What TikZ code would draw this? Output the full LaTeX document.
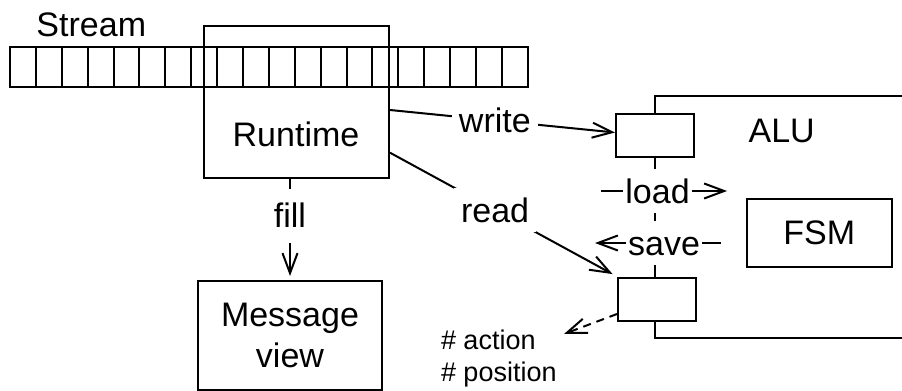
\documentclass[tikz,border=0pt]{standalone}
\usepackage{fontspec}
\setmainfont{Liberation Sans}
\usetikzlibrary{arrows.meta,calc}
\begin{document}
\begin{tikzpicture}[x=0.5pt,y=-0.5pt,line width=1pt,
  font=\fontsize{17}{20}\selectfont,
  box/.style={draw,rectangle,inner sep=0pt},
  reg/.style={draw,fill=white,minimum width=39pt,minimum height=21.5pt,inner sep=0pt},
  arr/.style={-{Straight Barb[length=10pt,width=7.5pt]}},
  lbl/.style={fill=white,inner xsep=3.5pt,inner ysep=5pt,text height=12.2pt,text depth=0pt},
  tight/.style={lbl,inner xsep=1pt},
  note/.style={anchor=base west,inner sep=0pt,font=\fontsize{13.5}{16}\selectfont}]
\useasboundingbox (0,0) rectangle (902,391);

% input tape
\foreach \i in {0,...,19}
  \draw (10+\i*25.885,46.5) rectangle ++(25.885,40.5);
\node[anchor=base west,inner sep=0pt] (st) at (35.5,36.7) {Stream};

% runtime window over the tape
\node[box,minimum width=92.5pt,minimum height=76pt] (rt) at (296.5,101.7) {};
\node[anchor=base,inner sep=0pt] (rtl) at (296,146.7) {Runtime};

% message view
\node[box,minimum width=92pt,minimum height=54.5pt,align=center,
  font=\fontsize{17}{20.8}\selectfont] (mv) at (290,335.5) {Message\\view};
\draw[arr,shorten >=2pt] (rt.south -| mv.north)
  -- node[lbl,pos=0.366,inner ysep=7.5pt] {fill} (mv.north);

% ALU frame, open to the right
\coordinate (aluA) at (902,96);
\coordinate (aluB) at (655,96);
\coordinate (aluC) at (655,338);
\coordinate (aluD) at (902,338);
\draw (aluA) -- (aluB) -- (aluC) -- (aluD);
\node (alu) at (781.7,130.5) {ALU};

% registers on the ALU border
\node[reg] (ur) at (655,135.5) {};
\node[reg] (lr) at (657,299) {};

% finite state machine
\node[box,minimum width=72.5pt,minimum height=34pt] (fsm) at (819.3,233) {FSM};

% load / save between registers and FSM
\coordinate (ldA) at (600.7,191);
\coordinate (ldB) at (727,191);
\draw[arr] (ldA) -- node[tight,pos=0.45] {load} (ldB);
\coordinate (svA) at (720.7,243);
\coordinate (svB) at (595,243);
\draw[arr] (svA) -- node[tight,pos=0.45] {save} (svB);

% runtime access to the registers
\draw[arr] ([yshift=-4.15pt]rt.east)
  -- node[lbl,pos=0.466] {write} ([yshift=1.5pt]ur.west);
\draw[arr,shorten >=2.5pt] ([yshift=-25.5pt]rt.east)
  -- node[lbl,pos=0.463] {read} (lr.north west);

% output of the lower register
\coordinate (out) at (564,334);
\draw[arr,dash pattern=on 4pt off 3pt] ([yshift=-7.5pt]lr.west) -- (out);
\node[note] (act) at (440,350) {\# action};
\node[note] (posn) at (440,381.7) {\# position};
\end{tikzpicture}
\end{document}
